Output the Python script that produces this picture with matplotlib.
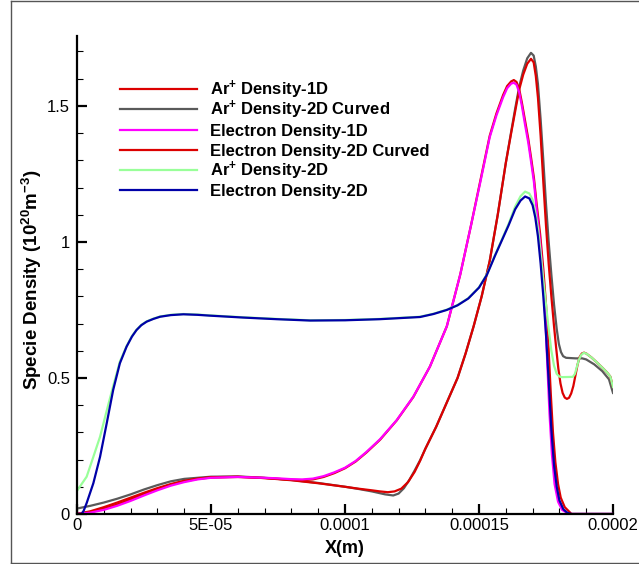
"""Specie density profiles: 1D vs 2D vs 2D curved (Tecplot-style line plot)."""

import matplotlib

matplotlib.use("Agg")
import matplotlib.pyplot as plt
from matplotlib.lines import Line2D
from matplotlib.ticker import FixedLocator, MultipleLocator

plt.rcParams["font.family"] = ["Liberation Sans", "DejaVu Sans"]
plt.rcParams["mathtext.fontset"] = "custom"
plt.rcParams["mathtext.rm"] = "Liberation Sans"
plt.rcParams["mathtext.bf"] = "Liberation Sans:bold"
plt.rcParams["mathtext.default"] = "bf"

SCALE = 1e-5  # x values below are in units of 1e-5 m

# --- Ar+ Density-1D ---
ar1d_x = [0, 0.5, 1, 1.5, 2, 2.5, 3, 3.5, 4, 4.5, 5, 6, 7, 8, 9, 10, 10.5, 11, 11.3, 11.6, 11.85,
          12.1, 12.35, 12.6, 12.8, 13.0, 13.4, 13.8, 14.2, 14.5, 14.8, 15.1, 15.4, 15.7, 16.0, 16.2,
          16.35, 16.5, 16.65, 16.8, 16.94, 17.04, 17.12, 17.2, 17.3, 17.4, 17.5, 17.6, 17.7, 17.8,
          17.88, 17.96, 18.04, 18.12, 18.2, 18.28, 18.36, 18.44, 18.52, 18.6, 18.68, 18.76, 18.84,
          18.92, 19.0, 19.2, 19.4, 19.6, 19.78, 19.9, 20]
ar1d_y = [0.0, 0.01, 0.025, 0.042, 0.06, 0.078, 0.095, 0.11, 0.122, 0.13, 0.135, 0.137, 0.132,
          0.124, 0.113, 0.1, 0.093, 0.087, 0.083, 0.08, 0.083, 0.093, 0.117, 0.155, 0.195, 0.24,
          0.32, 0.41, 0.5, 0.59, 0.69, 0.8, 0.93, 1.1, 1.29, 1.4, 1.48, 1.56, 1.615, 1.655, 1.673,
          1.66, 1.61, 1.53, 1.39, 1.22, 1.06, 0.92, 0.8, 0.69, 0.61, 0.535, 0.48, 0.445, 0.428,
          0.423, 0.427, 0.443, 0.47, 0.51, 0.55, 0.578, 0.59, 0.593, 0.59, 0.575, 0.557, 0.538,
          0.52, 0.505, 0.467]

# --- Ar+ Density-2D Curved ---
ar2dc_x = [0, 0.5, 1, 1.5, 2, 2.5, 3, 3.5, 4, 5, 6, 7, 8, 9, 10, 10.5, 11, 11.5, 11.8, 12.0,
           12.2, 12.4, 12.6, 12.8, 13.0, 13.4, 13.8, 14.2, 14.5, 14.8, 15.1, 15.4, 15.7, 16.0,
           16.2, 16.35, 16.5, 16.65, 16.8, 16.94, 17.04, 17.12, 17.2, 17.3, 17.4, 17.5, 17.6,
           17.7, 17.8, 17.9, 17.98, 18.06, 18.14, 18.25, 18.6, 18.85, 19.0, 19.3, 19.6, 19.85, 20]
ar2dc_y = [0.02, 0.03, 0.042, 0.056, 0.072, 0.09, 0.106, 0.12, 0.129, 0.137, 0.138, 0.133, 0.125,
           0.114, 0.1, 0.092, 0.083, 0.072, 0.068, 0.075, 0.095, 0.125, 0.16, 0.197, 0.24, 0.32,
           0.41, 0.5, 0.59, 0.69, 0.8, 0.93, 1.1, 1.29, 1.405, 1.49, 1.57, 1.63, 1.675, 1.695,
           1.685, 1.645, 1.58, 1.45, 1.3, 1.14, 1.0, 0.88, 0.77, 0.68, 0.625, 0.595, 0.58, 0.574,
           0.572, 0.572, 0.568, 0.55, 0.525, 0.495, 0.445]

# --- Electron Density-1D ---
e1d_x = [0, 0.5, 1, 1.5, 2, 2.5, 3, 3.5, 4, 4.5, 5, 6, 7, 7.5, 8.0, 8.4, 8.8, 9.2, 9.6, 10.0,
         10.4, 10.8, 11.31, 11.93, 12.55, 13.17, 13.8, 14.3, 14.7, 15.05, 15.4, 15.65, 15.9, 16.05,
         16.2, 16.3, 16.4, 16.5, 16.6, 16.72, 16.84, 16.95, 17.05, 17.15, 17.28, 17.38, 17.47,
         17.55, 17.63, 17.72, 17.82, 17.95, 18.1, 18.35, 20]
e1d_y = [0.0, 0.005, 0.015, 0.03, 0.048, 0.068, 0.087, 0.104, 0.117, 0.127, 0.133, 0.136, 0.133,
         0.131, 0.128, 0.127, 0.13, 0.139, 0.153, 0.17, 0.195, 0.228, 0.275, 0.345, 0.431, 0.542,
         0.69, 0.88, 1.06, 1.22, 1.385, 1.465, 1.532, 1.565, 1.582, 1.585, 1.578, 1.55, 1.5, 1.43,
         1.364, 1.29, 1.22, 1.12, 1.0, 0.88, 0.73, 0.55, 0.37, 0.22, 0.11, 0.045, 0.015, 0.0, 0.0]

# --- Electron Density-2D Curved ---
e2dc_x = [0, 0.5, 1, 1.5, 2, 2.5, 3, 3.5, 4, 4.5, 5, 6, 7, 7.5, 8.0, 8.4, 8.8, 9.2, 9.6, 10.0,
          10.4, 10.8, 11.31, 11.93, 12.55, 13.17, 13.8, 14.3, 14.7, 15.05, 15.4, 15.65, 15.9,
          16.05, 16.2, 16.3, 16.4, 16.5, 16.6, 16.72, 16.84, 16.95, 17.05, 17.15, 17.28, 17.4,
          17.5, 17.6, 17.68, 17.76, 17.85, 17.95, 18.05, 18.2, 18.45, 20]
e2dc_y = [0.0, 0.007, 0.019, 0.035, 0.054, 0.074, 0.092, 0.108, 0.12, 0.129, 0.134, 0.136, 0.132,
          0.129, 0.126, 0.124, 0.127, 0.136, 0.15, 0.168, 0.193, 0.226, 0.273, 0.344, 0.43, 0.542,
          0.69, 0.88, 1.06, 1.225, 1.39, 1.472, 1.54, 1.573, 1.59, 1.595, 1.588, 1.562, 1.512,
          1.445, 1.378, 1.305, 1.235, 1.14, 1.03, 0.9, 0.77, 0.6, 0.44, 0.3, 0.19, 0.11, 0.06,
          0.025, 0.0, 0.0]

# --- Ar+ Density-2D ---
ar2d_x = [0, 0.36, 0.61, 0.86, 1.11, 1.35, 1.6, 1.85, 2.05, 2.22, 2.4, 2.6, 2.85, 3.1, 3.5, 3.97,
          4.5, 4.96, 6.2, 7.45, 8.7, 10, 11.3, 12.8, 13.3, 13.8, 14.2, 14.6, 15.0, 15.3, 15.6,
          15.85, 16.1, 16.35, 16.55, 16.72, 16.88, 17.0, 17.1, 17.2, 17.3, 17.4, 17.5, 17.6, 17.7,
          17.8, 17.9, 18.0, 18.1, 18.5, 18.58, 18.65, 18.72, 18.8, 18.9, 19.0, 19.2, 19.4, 19.6,
          19.78, 19.9, 20]
ar2d_y = [0.085, 0.137, 0.21, 0.284, 0.38, 0.47, 0.56, 0.617, 0.654, 0.677, 0.695, 0.708, 0.718,
          0.726, 0.732, 0.735, 0.733, 0.73, 0.723, 0.717, 0.712, 0.713, 0.717, 0.725, 0.736, 0.751,
          0.768, 0.793, 0.833, 0.882, 0.952, 1.008, 1.065, 1.13, 1.168, 1.185, 1.178, 1.155, 1.11,
          1.05, 0.96, 0.86, 0.77, 0.68, 0.6, 0.545, 0.515, 0.505, 0.503, 0.504, 0.515, 0.54, 0.565,
          0.583, 0.592, 0.59, 0.575, 0.557, 0.538, 0.52, 0.505, 0.467]

# --- Electron Density-2D ---
e2d_x = [0, 0.17, 0.25, 0.36, 0.61, 0.86, 1.11, 1.35, 1.6, 1.85, 2.05, 2.22, 2.4, 2.6, 2.85, 3.1,
         3.5, 3.97, 4.5, 4.96, 6.2, 7.45, 8.7, 10, 11.3, 12.8, 13.3, 13.8, 14.2, 14.6, 15.0, 15.3,
         15.6, 15.85, 16.1, 16.35, 16.55, 16.72, 16.88, 17.0, 17.1, 17.2, 17.3, 17.4, 17.5, 17.6,
         17.7, 17.8, 17.9, 18.0, 18.15, 18.3, 18.45, 20]
e2d_y = [0.0, 0.0, 0.012, 0.04, 0.113, 0.21, 0.334, 0.456, 0.554, 0.615, 0.652, 0.676, 0.694,
         0.707, 0.717, 0.725, 0.731, 0.734, 0.732, 0.729, 0.722, 0.716, 0.711, 0.712, 0.716,
         0.724, 0.735, 0.75, 0.767, 0.792, 0.832, 0.88, 0.95, 1.005, 1.06, 1.12, 1.152, 1.167,
         1.16, 1.135, 1.09, 1.02, 0.92, 0.8, 0.66, 0.49, 0.31, 0.18, 0.1, 0.05, 0.017, 0.004, 0.0,
         0.0]

# legend order, colour, label, stacking order (1D red on top of gray, magenta on top of red)
series = [
    (ar1d_x, ar1d_y, "#dc0000", r"Ar$^{+}$ Density-1D", 3),
    (ar2dc_x, ar2dc_y, "#5a5a5a", r"Ar$^{+}$ Density-2D Curved", 2),
    (e1d_x, e1d_y, "#ff00ff", "Electron Density-1D", 5),
    (e2dc_x, e2dc_y, "#dc0000", "Electron Density-2D Curved", 4),
    (ar2d_x, ar2d_y, "#99ff99", r"Ar$^{+}$ Density-2D", 6),
    (e2d_x, e2d_y, "#0000a8", "Electron Density-2D", 7),
]

x_ticks = [0, 5e-5, 1e-4, 1.5e-4, 2e-4]
x_ticklabels = ["0", "5E-05", "0.0001", "0.00015", "0.0002"]
y_ticks = [0, 0.5, 1, 1.5]
y_ticklabels = ["0", "0.5", "1", "1.5"]

fig = plt.figure(figsize=(6.39, 5.64), dpi=100)
ax = fig.add_axes([0.1205, 0.0887, 0.8388, 0.8475])

for xs, ys, color, label, z in series:
    ax.plot([v * SCALE for v in xs], ys, color=color, lw=1.6, zorder=z)

ax.set_xlim(0, 2e-4)
ax.set_ylim(0, 1.757)
ax.xaxis.set_major_locator(FixedLocator(x_ticks))
ax.set_xticklabels(x_ticklabels)
ax.xaxis.set_minor_locator(MultipleLocator(1e-5))
ax.yaxis.set_major_locator(FixedLocator(y_ticks))
ax.set_yticklabels(y_ticklabels)
ax.yaxis.set_minor_locator(MultipleLocator(0.1))

for side in ("top", "right"):
    ax.spines[side].set_visible(False)
for side in ("left", "bottom"):
    ax.spines[side].set_linewidth(1.6)
    ax.spines[side].set_zorder(10)

ax.tick_params(which="major", direction="in", length=7.5, width=1.6, labelsize=12, pad=3)
ax.tick_params(which="minor", direction="in", length=4.3, width=0.8)
ax.tick_params(axis="y", which="major", pad=5)

ax.set_xlabel("X(m)", fontsize=13, fontweight="bold", labelpad=5)
ax.set_ylabel(r"Specie Density (10$^{20}$m$^{-3}$)", fontsize=13.5, fontweight="bold")
ax.yaxis.set_label_coords(-0.062, 0.49)

# Tecplot-style legend: sample line + bold label, rows 20 px apart
for i, (_, _, color, label, _) in enumerate(series):
    yrow = (514 - 89.3 - 20.2 * i) / 478
    ax.add_line(Line2D([0.080, 0.224], [yrow, yrow], transform=ax.transAxes, color=color, lw=1.6))
    ax.text(0.248, yrow - 0.0125, label, transform=ax.transAxes, fontsize=12,
            fontweight="bold", va="baseline", ha="left")

# outer frame (Tecplot page border)
for xs, ys in (([0.017, 0.017], [0.002, 0.998]), ([0.017, 1.0], [0.998, 0.998]),
               ([0.017, 1.0], [0.002, 0.002])):
    fig.add_artist(Line2D(xs, ys, transform=fig.transFigure, color="#555555", lw=1))

fig.savefig("out.png", dpi=100)
